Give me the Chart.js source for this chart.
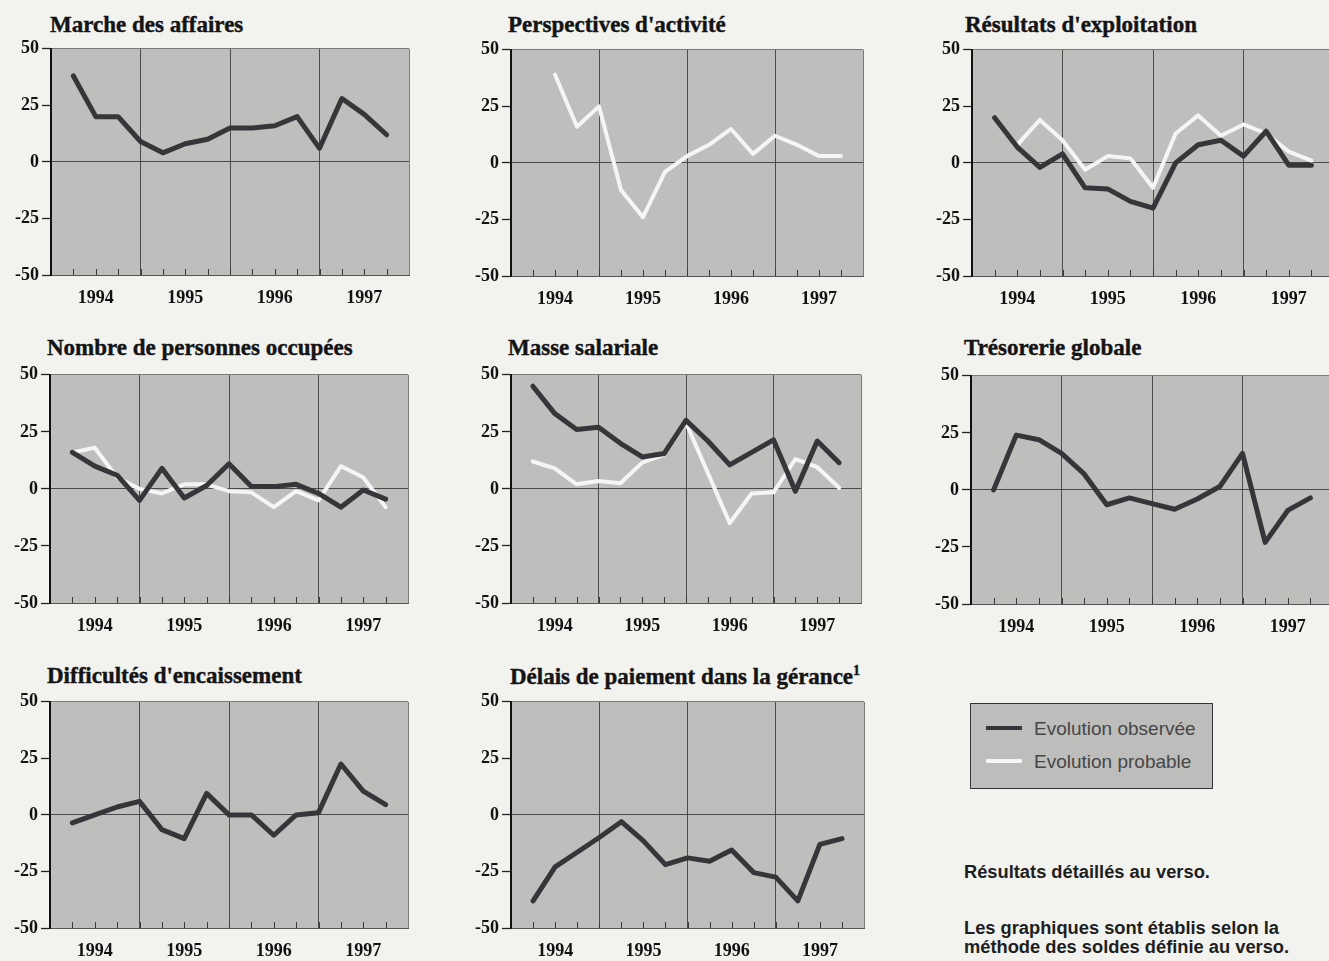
<!DOCTYPE html>
<html>
<head>
<meta charset="utf-8">
<script src="https://cdn.jsdelivr.net/npm/chart.js@4.4.1/dist/chart.umd.min.js"></script>
<style>
body { margin:0; width:1329px; height:961px; overflow:hidden; position:relative; background:#f2f2ef; }
canvas { position:absolute; }
.title { position:absolute; font:bold 23px "Liberation Serif", serif; color:#141414; white-space:nowrap; line-height:26px; -webkit-text-stroke:0.4px #141414; }
.title sup { font-size:14px; vertical-align:9px; line-height:0; }
.legend { position:absolute; left:970px; top:703px; width:241px; height:84px; background:#bdbdbb; border:1.5px solid #333; }
.item { position:absolute; left:15px; font:19px "Liberation Sans", sans-serif; color:#474747; white-space:nowrap; }
.item span { display:inline-block; width:36px; height:4px; margin-right:12px; vertical-align:5px; }
.note { position:absolute; left:964px; font:bold 18.3px "Liberation Sans", sans-serif; color:#1e1e1e; white-space:nowrap; line-height:19px; }
</style>
</head>
<body>

<div class="title" style="left:50px;top:12px">Marche des affaires</div>
<div class="title" style="left:508px;top:12px">Perspectives d'activité</div>
<div class="title" style="left:965px;top:12px">Résultats d'exploitation</div>
<div class="title" style="left:47px;top:335px">Nombre de personnes occupées</div>
<div class="title" style="left:508px;top:335px">Masse salariale</div>
<div class="title" style="left:964px;top:335px">Trésorerie globale</div>
<div class="title" style="left:47px;top:663px">Difficultés d'encaissement</div>
<div class="title" style="left:510px;top:664px">Délais de paiement dans la gérance<sup>1</sup></div>

<canvas id="c1"></canvas>
<canvas id="c2"></canvas>
<canvas id="c3"></canvas>
<canvas id="c4"></canvas>
<canvas id="c5"></canvas>
<canvas id="c6"></canvas>
<canvas id="c7"></canvas>
<canvas id="c8"></canvas>

<div class="legend">
  <div class="item" style="top:14px"><span style="background:#36363a"></span>Evolution observée</div>
  <div class="item" style="top:47px"><span style="background:#f5f5f5"></span>Evolution probable</div>
</div>
<div class="note" style="top:862px">Résultats détaillés au verso.</div>
<div class="note" style="top:918px">Les graphiques sont établis selon la<br>méthode des soldes définie au verso.</div>

<script>
// quarterly survey points, 1994 to 1997
var quarters = ['1994 T1','1994 T2','1994 T3','1994 T4','1995 T1','1995 T2','1995 T3','1995 T4',
                '1996 T1','1996 T2','1996 T3','1996 T4','1997 T1','1997 T2','1997 T3'];
var years = ['1994', '1995', '1996', '1997'];
var yTicks = [-50, -25, 0, 25, 50];

var marcheObs      = [38, 20, 20, 9, 4, 8, 10, 15, 15, 16, 20, 6, 28, 21, 12];
var perspProb      = [null, 39, 16, 25, -12, -24, -4, 3, 8, 15, 4, 12, 8, 3, 3];
var resultObs      = [20, 7, -2, 4, -11, -11.5, -17, -20, 0, 8, 10, 3, 14, -1, -1];
var resultProb     = [null, 8, 19, 10, -3, 3, 2, -11, 13, 21, 12, 17, 13, 5, 1];
var personnesObs   = [16, 10, 6, -5, 9, -4, 1.5, 11, 1, 1, 2, -2, -8, -0.5, -4.5];
var personnesProb  = [16, 18, 5, 0, -2, 2, 2, -1, -1.5, -8, -1, -5, 10, 5, -8];
var masseObs       = [45, 33, 26, 27, 20, 14, 15.5, 30, 21, 10.5, 16, 21.5, -1, 21, 11.5];
var masseProb      = [12, 9, 2, 3.5, 2.5, 11.5, 15, 29, 7, -15, -2, -1.5, 13, 9.5, 0.5];
var tresoObs       = [0, 24, 22, 16, 7, -6.5, -3.5, -6, -8.5, -4, 1.5, 16, -23, -9, -3.5];
var encaisseObs    = [-3.5, 0, 3.5, 6, -6.5, -10.5, 9.5, 0, 0, -9, 0, 1, 22.5, 10.5, 4.5];
var delaisObs      = [-38, -23, -16.5, -10, -3, -11.5, -22, -19, -20.5, -15.5, -25.5, -27.5, -38, -13, -10.5];

var DARK = '#36363a';
var LIGHT = '#f5f5f5';
var PLOT_BG = '#bebebc';

// plot box of each panel: left, right, top (value 50), bottom (value -50)
var panels = [
  {id:'c1', L:51,  R:409,  T:47,  B:275, obs:marcheObs,    prob:null},
  {id:'c2', L:511, R:863,  T:48,  B:276, obs:null,         prob:perspProb},
  {id:'c3', L:972, R:1334, T:48,  B:276, obs:resultObs,    prob:resultProb},
  {id:'c4', L:50,  R:408,  T:373, B:603, obs:personnesObs, prob:personnesProb},
  {id:'c5', L:511, R:861,  T:373, B:603, obs:masseObs,     prob:masseProb},
  {id:'c6', L:971, R:1333, T:374, B:604, obs:tresoObs,     prob:null},
  {id:'c7', L:50,  R:408,  T:700, B:928, obs:encaisseObs,  prob:null},
  {id:'c8', L:511, R:864,  T:700, B:928, obs:delaisObs,    prob:null}
];

// y axis width, x axis height, top padding; XPAD = x tick padding (Chart.js reserves it on the right too)
var YW = 52, XH = 42, PT = 12, XPAD = 13;

var plotBack = {
  id: 'plotBack',
  beforeDraw: function(chart) {
    var a = chart.chartArea, ctx = chart.ctx;
    ctx.save();
    ctx.fillStyle = PLOT_BG;
    ctx.fillRect(a.left, a.top, a.right - a.left, a.bottom - a.top);
    ctx.restore();
  },
  beforeDatasetsDraw: function(chart) {
    // small inner tick marks on the time axis
    var x = chart.scales.x, a = chart.chartArea, ctx = chart.ctx;
    ctx.save();
    ctx.strokeStyle = '#3a3a3a';
    ctx.lineWidth = 1;
    for (var i = 0; i < quarters.length; i++) {
      var px = Math.round(x.getPixelForValue(i)) + 0.5;
      ctx.beginPath();
      ctx.moveTo(px, a.bottom);
      ctx.lineTo(px, a.bottom - 6);
      ctx.stroke();
    }
    ctx.restore();
  }
};

function points(vals) {
  return vals.map(function(v, i) { return {x: i, y: v}; });
}

panels.forEach(function(p) {
  var cv = document.getElementById(p.id);
  cv.width = p.R - p.L + YW + XPAD;
  cv.height = p.B - p.T + PT + XH;
  cv.style.left = (p.L - YW) + 'px';
  cv.style.top = (p.T - PT) + 'px';

  var ds = [];
  if (p.obs) ds.push({label:'Evolution observée', data:points(p.obs), borderColor:DARK, borderWidth:5,
                      pointRadius:0, tension:0, borderJoinStyle:'round', borderCapStyle:'round'});
  if (p.prob) ds.push({label:'Evolution probable', data:points(p.prob), borderColor:LIGHT, borderWidth:4,
                       pointRadius:0, tension:0, borderJoinStyle:'round', borderCapStyle:'round'});

  new Chart(cv, {
    type: 'line',
    data: { datasets: ds },
    plugins: [plotBack],
    options: {
      responsive: false,
      animation: false,
      layout: { padding: {top: PT, right: 0, left: 0, bottom: 0} },
      plugins: { legend: {display:false}, tooltip: {enabled:false} },
      scales: {
        x: {
          type: 'linear', min: -1, max: quarters.length,
          afterFit: function(s) { s.height = XH; },
          afterBuildTicks: function(s) {
            var t = [];
            for (var i = -1; i <= quarters.length; i++) t.push({value: i});
            s.ticks = t;
          },
          ticks: {
            autoSkip: false, maxRotation: 0, padding: XPAD, color: '#111',
            font: {family: '"Liberation Serif", serif', size: 18, weight: 'bold'},
            callback: function(v) {
              var k = (v - 1) / 4;
              return (k >= 0 && k === Math.floor(k) && years[k]) ? years[k] : '';
            }
          },
          grid: {
            drawTicks: false, lineWidth: 1,
            color: function(c) {
              var v = c.tick.value;
              if (v === 3 || v === 7 || v === 11) return '#4c4c4c';
              if (v === quarters.length) return '#7a7a7a';
              return 'rgba(0,0,0,0)';
            }
          },
          border: { color: '#555', width: 1 }
        },
        y: {
          min: -50, max: 50,
          afterFit: function(s) { s.width = YW; },
          afterBuildTicks: function(s) { s.ticks = yTicks.map(function(v) { return {value: v}; }); },
          ticks: {
            padding: 3, color: '#111',
            font: {family: '"Liberation Serif", serif', size: 18, weight: 'bold'}
          },
          grid: {
            tickLength: 9, tickColor: '#222', tickWidth: 1.3, lineWidth: 1,
            color: function(c) {
              var v = c.tick.value;
              if (v === 0) return '#4a4a4a';
              if (v === 50) return '#7a7a7a';
              return 'rgba(0,0,0,0)';
            }
          },
          border: { color: '#111', width: 2 }
        }
      }
    }
  });
});
</script>
</body>
</html>
